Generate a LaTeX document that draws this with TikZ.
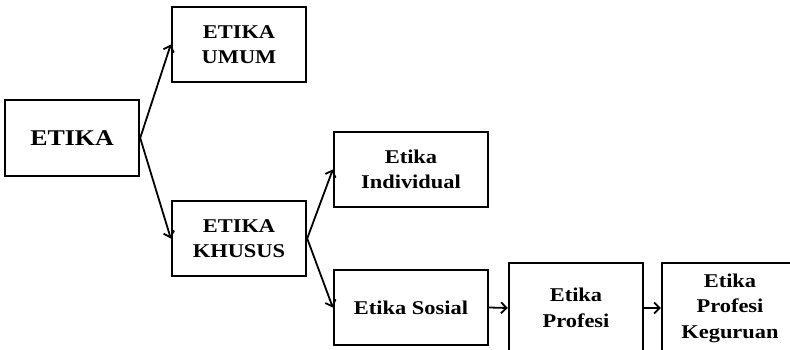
\documentclass[tikz,border=0pt]{standalone}
\usepackage{fontspec}
\setmainfont[FakeStretch=1.15]{Liberation Serif}
\usetikzlibrary{arrows.meta}
\tikzset{
  box/.style={draw, line width=2.4pt, inner sep=0pt, align=center,
    font=\bfseries\fontsize{19.5}{25.5}\selectfont},
  link/.style={line width=1.8pt, -{Straight Barb[length=5.5pt,width=11pt,line width=1.8pt]}}
}
\begin{document}
\begin{tikzpicture}[x=1pt,y=-1pt]
  \useasboundingbox (0,0) rectangle (790,350);
  \clip (0,0) rectangle (790,350);
  \fill[white] (0,0) rectangle (790,350);
  % hierarchy of ethics
  \node[box, minimum width=134pt, minimum height=76pt,
        font=\bfseries\fontsize{22.5}{28}\selectfont] (etika) at (72,138) {ETIKA};
  \node[box, minimum width=134pt, minimum height=75pt] (umum) at (239,44.5) {ETIKA\\UMUM};
  \node[box, minimum width=134pt, minimum height=75pt] (khusus) at (239,238.5) {ETIKA\\KHUSUS};
  \node[box, minimum width=154pt, minimum height=75pt] (indiv) at (411,169.5) {Etika\\Individual};
  \node[box, minimum width=154pt, minimum height=75pt] (sosial) at (411,307.5) {Etika Sosial};
  \node[box, minimum width=134pt, minimum height=90pt] (profesi) at (576,308) {Etika\\Profesi};
  \node[box, minimum width=136pt, minimum height=90pt] (guru) at (730,308) {Etika\\Profesi\\Keguruan};
  % connectors
  \draw[link] (etika.east) -- (umum.west);
  \draw[link] (etika.east) -- (khusus.west);
  \draw[link] (khusus.east) -- (indiv.west);
  \draw[link] (khusus.east) -- (sosial.west);
  \draw[link] (sosial.east) -- (profesi.west);
  \draw[link] (profesi.east) -- (guru.west);
\end{tikzpicture}
\end{document}
